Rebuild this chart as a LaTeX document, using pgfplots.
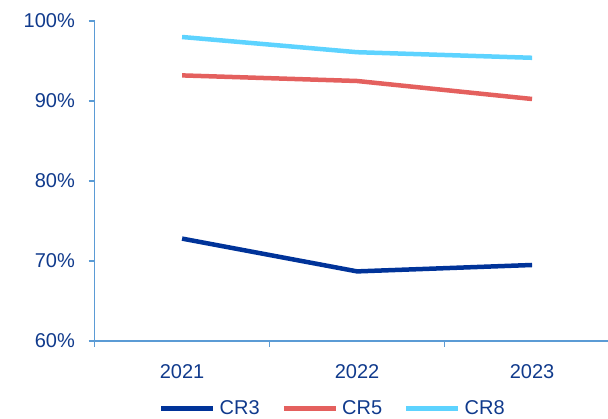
\documentclass[border=0pt]{standalone}
\usepackage{pgfplots}
\pgfplotsset{compat=1.18}
\usepackage{fontspec}
\setmainfont{Liberation Sans}

\definecolor{axisblue}{HTML}{5B9BD5}
\definecolor{labelblue}{HTML}{103A8C}
\definecolor{crthree}{HTML}{003399}
\definecolor{crfive}{HTML}{E4605E}
\definecolor{creight}{HTML}{5DD3FF}

\pgfplotstableread{
x  cr3    cr5    cr8
0  72.8   93.2   98.0
1  68.7   92.5   96.1
2  69.5   90.25  95.4
}\concentration

\begin{document}
\begin{tikzpicture}
\path[use as bounding box, clip] (0pt,0pt) rectangle (608pt,419pt);
\begin{axis}[
  at={(94.6pt,78pt)}, anchor=south west,
  width=513.4pt, height=320pt, scale only axis,
  xmin=-0.5, xmax=2.434, ymin=60, ymax=100,
  axis x line*=bottom, axis y line*=left,
  axis line style={axisblue, line width=1.5pt},
  tick style={axisblue, line width=1.5pt},
  tick align=outside,
  major tick length=6pt,
  minor tick length=6pt,
  xtick={0,1,2},
  xticklabels={2021,2022,2023},
  major x tick style={draw=none},
  minor xtick={-0.5,0.5,1.5},
  ytick={60,70,80,90,100},
  yticklabels={60\%,70\%,80\%,90\%,100\%},
  ticklabel style={font=\fontsize{20}{24}\selectfont, text=labelblue, inner sep=0pt},
  yticklabel style={anchor=east, xshift=-13.6pt},
  xticklabel style={anchor=north, yshift=-17.7pt},
  legend columns=3,
  legend style={draw=none, fill=none, inner sep=0pt,
    at={(0.1254,-0.2406)}, anchor=south west,
    font=\fontsize{20}{24}\selectfont, text=labelblue,
    cells={anchor=base west, inner sep=0pt},
    column sep=2pt,
    /tikz/every even column/.append style={column sep=20pt}},
  legend image code/.code={\draw[#1] (0pt,5.6pt) -- (52pt,5.6pt);},
  every axis plot/.append style={line width=4.5pt, line join=round},
]
\addplot[crthree] table[x=x, y=cr3] {\concentration};
\addlegendentry{CR3}
\addplot[crfive] table[x=x, y=cr5] {\concentration};
\addlegendentry{CR5}
\addplot[creight] table[x=x, y=cr8] {\concentration};
\addlegendentry{CR8}
\end{axis}
\end{tikzpicture}
\end{document}
